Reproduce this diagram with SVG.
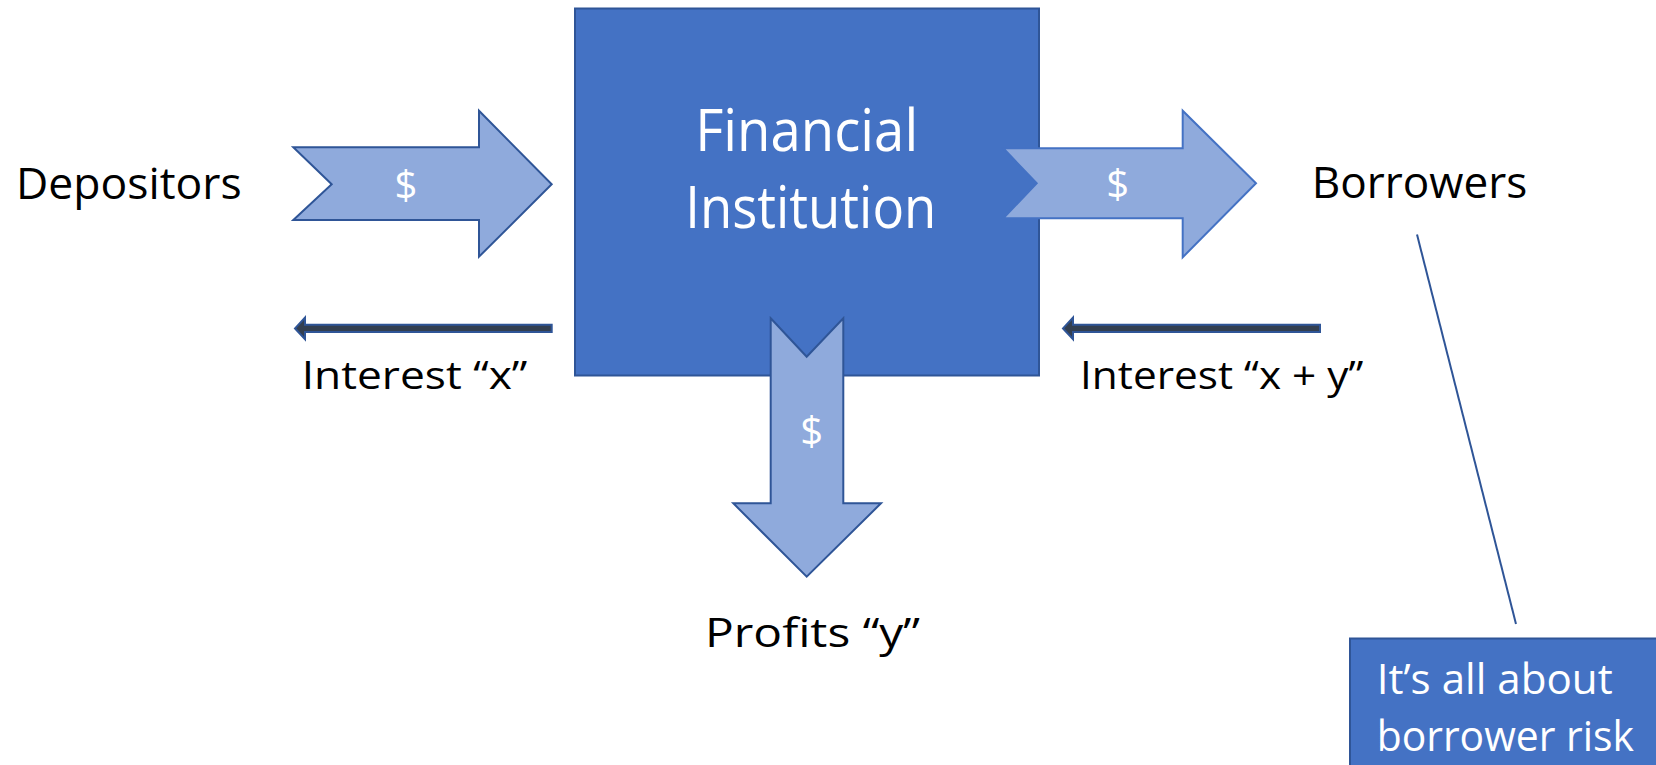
<svg xmlns="http://www.w3.org/2000/svg" width="1656" height="765" viewBox="0 0 1656 765">
  <defs>
    <style>
      .lbl { font-family: "Open Sans", "Noto Sans", "Liberation Sans", sans-serif; fill: #000000; }
      .wht { font-family: "Open Sans", "Noto Sans", "Liberation Sans", sans-serif; fill: #FFFFFF; }
      .box { fill: #4472C4; stroke: #2F5597; stroke-width: 2; }
      .flow { fill: #8FAADC; stroke: #2F5597; stroke-width: 2; stroke-linejoin: miter; }
      .flow-lt { fill: #8FAADC; stroke: #4472C4; stroke-width: 2; stroke-linejoin: miter; }
      .thin { fill: #333F50; stroke: #2F5597; stroke-width: 2; stroke-linejoin: miter; }
      .lead { fill: none; stroke: #2F5597; stroke-width: 2; }
    </style>
  </defs>
  <rect width="1656" height="765" fill="#FFFFFF"/>

  <!-- central institution -->
  <g id="institution">
    <rect class="box" x="575" y="8.5" width="464" height="367"/>
    <text class="wht" font-size="58" text-anchor="middle" x="806.7" y="151" textLength="223" lengthAdjust="spacingAndGlyphs">Financial</text>
    <text class="wht" font-size="58" text-anchor="middle" x="810.8" y="228" textLength="251" lengthAdjust="spacingAndGlyphs">Institution</text>
  </g>

  <g id="depositors">
    <text class="lbl" font-size="43" x="16" y="199" textLength="225.7" lengthAdjust="spacingAndGlyphs">Depositors</text>
  </g>

  <g id="borrowers">
    <text class="lbl" font-size="43" x="1311.7" y="198" textLength="215.6" lengthAdjust="spacingAndGlyphs">Borrowers</text>
  </g>

  <g id="profits">
    <text class="lbl" font-size="40" x="705" y="647" textLength="215" lengthAdjust="spacingAndGlyphs">Profits “y”</text>
  </g>

  <g id="risk-note">
    <rect class="box" x="1350" y="638.5" width="320" height="140"/>
    <text class="wht" font-size="42" x="1376.7" y="694" textLength="236" lengthAdjust="spacingAndGlyphs">It’s all about</text>
    <text class="wht" font-size="42" x="1376.7" y="751" textLength="257.3" lengthAdjust="spacingAndGlyphs">borrower risk</text>
  </g>

  <!-- flows between the parties -->
  <g id="connectors">
    <!-- deposits into the institution -->
    <g id="flow-deposits">
      <polygon class="flow" points="293.3,147.3 479,147.3 479,110.7 551.7,184.3 479,256.7 479,220 293.3,220 331.7,184.3"/>
      <text class="wht" font-size="40" text-anchor="middle" x="406" y="199">$</text>
    </g>
    <!-- loans out to borrowers -->
    <g id="flow-loans">
      <polygon class="flow-lt" points="1003.3,148.3 1182.7,148.3 1182.7,110.7 1256,183.3 1182.7,257.3 1182.7,218.3 1003.3,218.3 1036.7,183.3"/>
      <text class="wht" font-size="40" text-anchor="middle" x="1117.7" y="198">$</text>
    </g>
    <!-- profits retained -->
    <g id="flow-profits">
      <polygon class="flow" points="770.7,318.3 806.7,356.7 843.3,318.3 843.3,503.3 881,503.3 806.7,576.7 733.3,503.3 770.7,503.3"/>
      <text class="wht" font-size="40" text-anchor="middle" x="811.7" y="445">$</text>
    </g>
    <!-- interest paid to depositors -->
    <g id="interest-x">
      <polygon class="thin" points="551.7,324.8 551.7,332 305,332 305,339.3 295,328.4 305,317.6 305,324.8"/>
      <text class="lbl" font-size="39" x="301.7" y="389" textLength="225.6" lengthAdjust="spacingAndGlyphs">Interest “x”</text>
    </g>
    <!-- interest paid by borrowers -->
    <g id="interest-xy">
      <polygon class="thin" points="1320,324.8 1320,332 1073,332 1073,339.3 1063,328.4 1073,317.6 1073,324.8"/>
      <text class="lbl" font-size="39" x="1080" y="389" textLength="283.3" lengthAdjust="spacingAndGlyphs">Interest “x + y”</text>
    </g>
    <!-- leader to the note -->
    <line class="lead" x1="1417" y1="234.5" x2="1516" y2="624"/>
  </g>
</svg>
